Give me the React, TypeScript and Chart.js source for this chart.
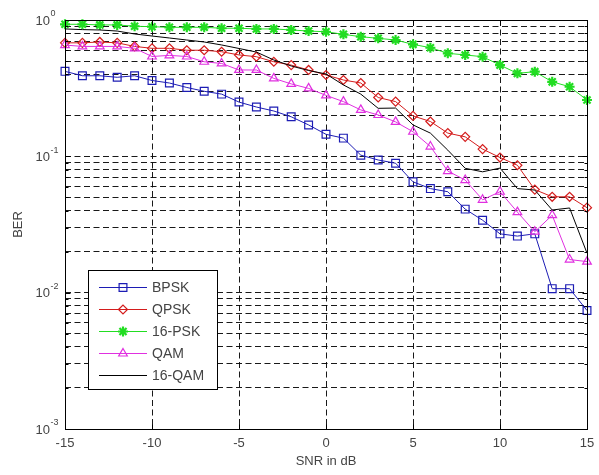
import React, { useEffect, useRef } from 'react';
import { Chart, registerables } from 'chart.js';
import { drawPoint } from 'chart.js/helpers';

Chart.register(...registerables);

// ---------- data ----------
const snr = [-15, -14, -13, -12, -11, -10, -9, -8, -7, -6, -5, -4, -3, -2, -1, 0, 1, 2, 3, 4, 5, 6, 7, 8, 9, 10, 11, 12, 13, 14, 15];

const bpsk = [0.42, 0.39, 0.39, 0.38, 0.39, 0.36, 0.345, 0.32, 0.30, 0.286, 0.25, 0.23, 0.215, 0.195, 0.17,
  0.145, 0.136, 0.102, 0.094, 0.089, 0.065, 0.058, 0.055, 0.041, 0.034, 0.027, 0.026, 0.027, 0.0107, 0.0107, 0.0074];

const qpsk = [0.68, 0.68, 0.69, 0.68, 0.64, 0.62, 0.62, 0.60, 0.60, 0.585, 0.554, 0.538, 0.494, 0.467, 0.43,
  0.395, 0.363, 0.345, 0.27, 0.252, 0.198, 0.18, 0.148, 0.139, 0.113, 0.098, 0.086, 0.057, 0.0505, 0.0505, 0.042];

const psk16 = [0.93, 0.93, 0.92, 0.92, 0.90, 0.893, 0.884, 0.884, 0.884, 0.87, 0.87, 0.86, 0.86, 0.845, 0.83,
  0.82, 0.785, 0.754, 0.734, 0.713, 0.663, 0.626, 0.57, 0.554, 0.538, 0.467, 0.406, 0.418, 0.352, 0.324, 0.259];

const qam = [0.655, 0.64, 0.64, 0.64, 0.62, 0.54, 0.55, 0.54, 0.494, 0.48, 0.43, 0.43, 0.373, 0.34, 0.315,
  0.28, 0.252, 0.219, 0.201, 0.179, 0.1515, 0.118, 0.078, 0.067, 0.048, 0.055, 0.039, 0.028, 0.037, 0.0175, 0.0169];

const qam16 = [0.86, 0.85, 0.845, 0.83, 0.79, 0.763, 0.738, 0.713, 0.69, 0.656, 0.618, 0.582, 0.509, 0.46, 0.426,
  0.402, 0.334, 0.286, 0.225, 0.226, 0.17, 0.148, 0.111, 0.0817, 0.077, 0.082, 0.058, 0.0566, 0.0404, 0.0418, 0.0195];

const seriesNames = ['BPSK', 'QPSK', '16-PSK', 'QAM', '16-QAM'];
const xTickValues = [-15, -10, -5, 0, 5, 10, 15];
const yDecadeExponents = [-3, -2, -1, 0];
const yMantissas = [1, 2, 3, 4, 5, 6, 7, 8, 9];

const xTitle = 'SNR in dB';
const yTitle = 'BER';

// ---------- helpers ----------
const yTickValues: number[] = [];
yDecadeExponents.forEach((e) => {
  if (e === 0) {
    yTickValues.push(1);
  } else {
    yMantissas.forEach((m) => yTickValues.push(parseFloat((m * Math.pow(10, e)).toPrecision(6))));
  }
});

const FONT = '"Liberation Sans", Arial, Helvetica, sans-serif';
const TEXT_COLOR = '#444444';

const toXY = (vals: number[]) => vals.map((v, i) => ({ x: snr[i], y: v }));

const matlabPlugin = {
  id: 'matlabDecor',
  afterDraw(chart: any) {
    const { ctx, chartArea: ca, scales } = chart;
    const xs = scales.x;
    const ys = scales.y;
    const L = Math.round(ca.left) + 0.5;
    const R = Math.round(ca.right) + 0.5;
    const T = Math.round(ca.top) + 0.5;
    const B = Math.round(ca.bottom) + 0.5;
    ctx.save();
    ctx.setLineDash([]);
    ctx.strokeStyle = '#000';
    ctx.lineWidth = 1;

    // axes box
    ctx.strokeRect(L, T, R - L, B - T);

    // inward tick marks
    ctx.beginPath();
    xTickValues.forEach((v) => {
      const px = Math.round(xs.getPixelForValue(v)) + 0.5;
      ctx.moveTo(px, B); ctx.lineTo(px, B - 5);
      ctx.moveTo(px, T); ctx.lineTo(px, T + 5);
    });
    yTickValues.forEach((v) => {
      const py = Math.round(ys.getPixelForValue(v)) + 0.5;
      const major = Math.abs(Math.log10(v) - Math.round(Math.log10(v))) < 1e-9;
      const len = major ? 5 : 3;
      ctx.moveTo(L, py); ctx.lineTo(L + len, py);
      ctx.moveTo(R, py); ctx.lineTo(R - len, py);
    });
    ctx.stroke();

    // x tick labels
    ctx.fillStyle = TEXT_COLOR;
    ctx.font = `13px ${FONT}`;
    ctx.textAlign = 'center';
    ctx.textBaseline = 'top';
    xTickValues.forEach((v) => {
      ctx.fillText(String(v), xs.getPixelForValue(v), ca.bottom + 8);
    });

    // y decade labels 10^e
    yDecadeExponents.forEach((e) => {
      const py = ys.getPixelForValue(Math.pow(10, e));
      ctx.font = `13px ${FONT}`;
      ctx.textAlign = 'right';
      ctx.textBaseline = 'middle';
      ctx.fillText('10', ca.left - 15, py + 1);
      ctx.font = `9px ${FONT}`;
      ctx.textAlign = 'left';
      ctx.fillText(String(e), ca.left - 14.5, py - 6);
    });

    // axis titles
    ctx.font = `13px ${FONT}`;
    ctx.textAlign = 'center';
    ctx.textBaseline = 'middle';
    ctx.fillText(xTitle, xs.getPixelForValue(0), ca.bottom + 32);
    ctx.save();
    ctx.translate(18, (ca.top + ca.bottom) / 2);
    ctx.rotate(-Math.PI / 2);
    ctx.fillText(yTitle, 0, 0);
    ctx.restore();

    // legend box
    const lx = 88, ly = 270, lw = 129, lh = 119;
    ctx.fillStyle = '#fff';
    ctx.fillRect(lx, ly, lw, lh);
    ctx.strokeStyle = '#000';
    ctx.lineWidth = 1;
    ctx.strokeRect(lx + 0.5, ly + 0.5, lw, lh);

    chart.data.datasets.forEach((ds: any, i: number) => {
      const y = ly + 17 + i * 22;
      ctx.strokeStyle = ds.borderColor;
      ctx.lineWidth = 1;
      ctx.beginPath();
      ctx.moveTo(99, y + 0.5);
      ctx.lineTo(147, y + 0.5);
      ctx.stroke();
      if (ds.pointRadius > 0) {
        ctx.fillStyle = 'rgba(0,0,0,0)';
        ctx.lineWidth = ds.pointBorderWidth;
        drawPoint(ctx, { pointStyle: ds.pointStyle, radius: ds.pointRadius, rotation: 0, borderWidth: ds.pointBorderWidth }, 123, y + 0.5);
      }
      ctx.fillStyle = TEXT_COLOR;
      ctx.font = `14px ${FONT}`;
      ctx.textAlign = 'left';
      ctx.textBaseline = 'middle';
      ctx.fillText(seriesNames[i], 152, y + 1);
    });

    ctx.restore();
  },
};

export default function App() {
  const canvasRef = useRef<HTMLCanvasElement | null>(null);

  useEffect(() => {
    const canvas = canvasRef.current;
    if (!canvas) return;

    const mk = (idx: number, vals: number[], color: string, style: any, radius: number, bw: number) => ({
      label: seriesNames[idx],
      data: toXY(vals),
      borderColor: color,
      backgroundColor: color,
      borderWidth: 1,
      pointStyle: style,
      pointRadius: radius,
      pointBorderWidth: bw,
      pointBorderColor: color,
      pointBackgroundColor: 'rgba(0,0,0,0)',
      tension: 0,
      clip: false as any,
      order: 4 - idx,
    });

    const chart = new Chart(canvas, {
      type: 'line',
      data: {
        datasets: [
          mk(0, bpsk, '#1c1cb4', 'rect', 5.5, 1.2),
          mk(1, qpsk, '#d41c1c', 'rectRot', 4.5, 1.2),
          mk(2, psk16, '#22dd22', 'star', 5, 2.2),
          mk(3, qam, '#e030e0', 'triangle', 5, 1.2),
          mk(4, qam16, '#000000', 'circle', 0, 1),
        ],
      },
      options: {
        animation: false,
        responsive: false,
        devicePixelRatio: 1,
        layout: { padding: { left: 65, right: 12, top: 20, bottom: 46 } },
        plugins: {
          legend: { display: false },
          tooltip: { enabled: false },
        },
        elements: { line: { borderWidth: 1 } },
        scales: {
          x: {
            type: 'linear',
            min: -15,
            max: 15,
            afterBuildTicks: (scale: any) => {
              scale.ticks = xTickValues.map((v) => ({ value: v }));
            },
            ticks: { display: false },
            grid: { color: 'rgba(0,0,0,0.9)', lineWidth: 1, drawTicks: false },
            border: { display: false, dash: [6, 3.5] },
            title: { display: false },
          },
          y: {
            type: 'logarithmic',
            min: 0.001,
            max: 1,
            afterBuildTicks: (scale: any) => {
              scale.ticks = yTickValues.map((v) => ({ value: v }));
            },
            ticks: { display: false },
            grid: { color: 'rgba(0,0,0,0.9)', lineWidth: 1, drawTicks: false },
            border: { display: false, dash: [6, 3.5] },
            title: { display: false },
          },
        },
      },
      plugins: [matlabPlugin],
    });

    return () => chart.destroy();
  }, []);

  return (
    <div style={{ position: 'absolute', left: 0, top: 0, width: 599, height: 475, background: '#fff' }}>
      <canvas ref={canvasRef} width={599} height={475} style={{ display: 'block' }} />
    </div>
  );
}
